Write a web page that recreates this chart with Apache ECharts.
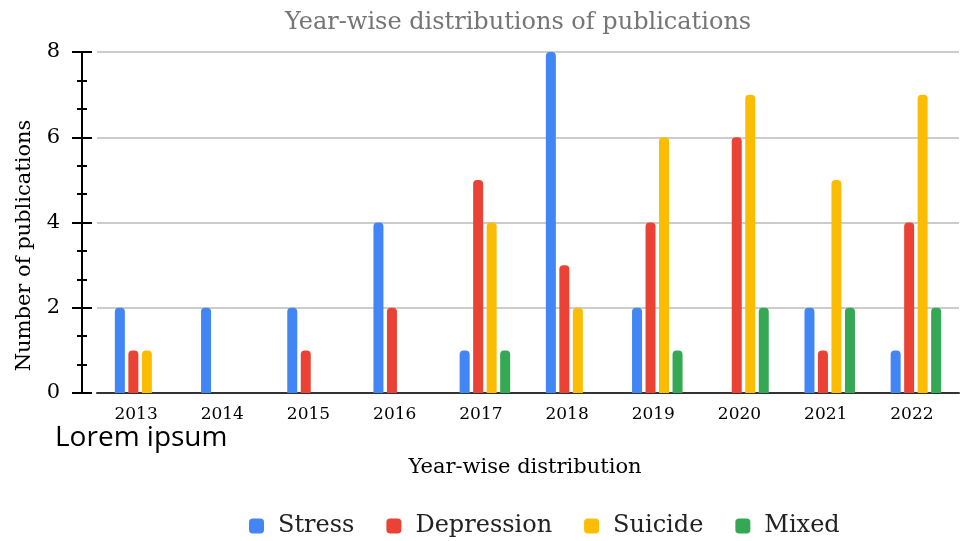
<!DOCTYPE html>
<html>
<head>
<meta charset="utf-8">
<script src="https://cdn.jsdelivr.net/npm/echarts@6/dist/echarts.min.js"></script>
<style>
  html, body { margin: 0; padding: 0; background: #fff; }
  #chart { width: 976px; height: 541px; }
</style>
</head>
<body>
<div id="chart"></div>
<script>
// data
var years = ['2013', '2014', '2015', '2016', '2017', '2018', '2019', '2020', '2021', '2022'];
var stress     = [2, 2, 2, 4, 1, 8, 2, 0, 2, 1];
var depression = [1, 0, 1, 2, 5, 3, 4, 6, 1, 4];
var suicide    = [1, 0, 0, 0, 4, 2, 6, 7, 5, 7];
var mixed      = [0, 0, 0, 0, 1, 0, 1, 2, 2, 2];

var serif = 'DejaVu Serif';
var chart = echarts.init(document.getElementById('chart'));

function bar(name, data, color) {
    return {
        name: name,
        type: 'bar',
        data: data,
        barWidth: 10,
        barGap: '35%',
        itemStyle: { color: color, borderRadius: [4, 4, 0, 0] }
    };
}

var option = {
    animation: false,
    title: [
        {
            text: 'Year-wise distributions of publications',
            left: 280,
            top: 6,
            textStyle: { fontFamily: serif, fontSize: 24, fontWeight: 'normal', color: '#757575' }
        },
        {
            text: 'Lorem ipsum',
            left: 50,
            top: 419,
            textStyle: { fontFamily: 'Open Sans', fontSize: 28, fontWeight: 'normal', color: '#000' }
        }
    ],
    legend: {
        top: 509,
        left: 244,
        icon: 'roundRect',
        itemWidth: 15,
        itemHeight: 15,
        itemGap: 32,
        textStyle: { fontFamily: serif, fontSize: 24, color: '#222', padding: [0, 0, 0, 9] },
        data: ['Stress', 'Depression', 'Suicide', 'Mixed']
    },
    grid: { left: 97, right: 17, top: 52, bottom: 148, outerBoundsMode: 'none' },
    xAxis: {
        type: 'category',
        data: years,
        name: 'Year-wise distribution',
        nameLocation: 'middle',
        nameGap: 64,
        nameTextStyle: { fontFamily: serif, fontSize: 21, color: '#000', padding: [0, 6, 0, 0] },
        axisLine: { lineStyle: { color: '#333', width: 2 } },
        axisTick: { show: false },
        axisLabel: { fontFamily: serif, fontSize: 17, color: '#000', margin: 13, padding: [0, 8, 0, 0] }
    },
    yAxis: [
        {
            type: 'value',
            min: 0, max: 8, interval: 2,
            offset: 15,
            name: 'Number of publications',
            nameLocation: 'middle',
            nameGap: 47,
            nameTextStyle: { fontFamily: serif, fontSize: 21, color: '#000', padding: [0, 46, 0, 0] },
            axisLine: { show: true, lineStyle: { color: '#000', width: 2 } },
            axisTick: { show: true, length: 10, lineStyle: { color: '#000', width: 2 } },
            minorTick: { show: true, splitNumber: 3, length: 5, lineStyle: { color: '#000', width: 2 } },
            axisLabel: { fontFamily: serif, fontSize: 21, color: '#000', margin: 22 },
            splitLine: { lineStyle: { color: '#cccccc', width: 2 } }
        },
        {
            // second copy only for the inward half of the crossing ticks
            type: 'value',
            position: 'left',
            min: 0, max: 8, interval: 2,
            offset: 15,
            axisLine: { show: false },
            axisTick: { show: true, inside: true, length: 10, lineStyle: { color: '#000', width: 2 } },
            minorTick: { show: true, splitNumber: 3, length: 5, lineStyle: { color: '#000', width: 2 } },
            axisLabel: { show: false },
            splitLine: { show: false }
        }
    ],
    series: [
        bar('Stress', stress, '#4285F4'),
        bar('Depression', depression, '#EA4335'),
        bar('Suicide', suicide, '#FBBC04'),
        bar('Mixed', mixed, '#34A853')
    ]
};
chart.setOption(option);
</script>
</body>
</html>
